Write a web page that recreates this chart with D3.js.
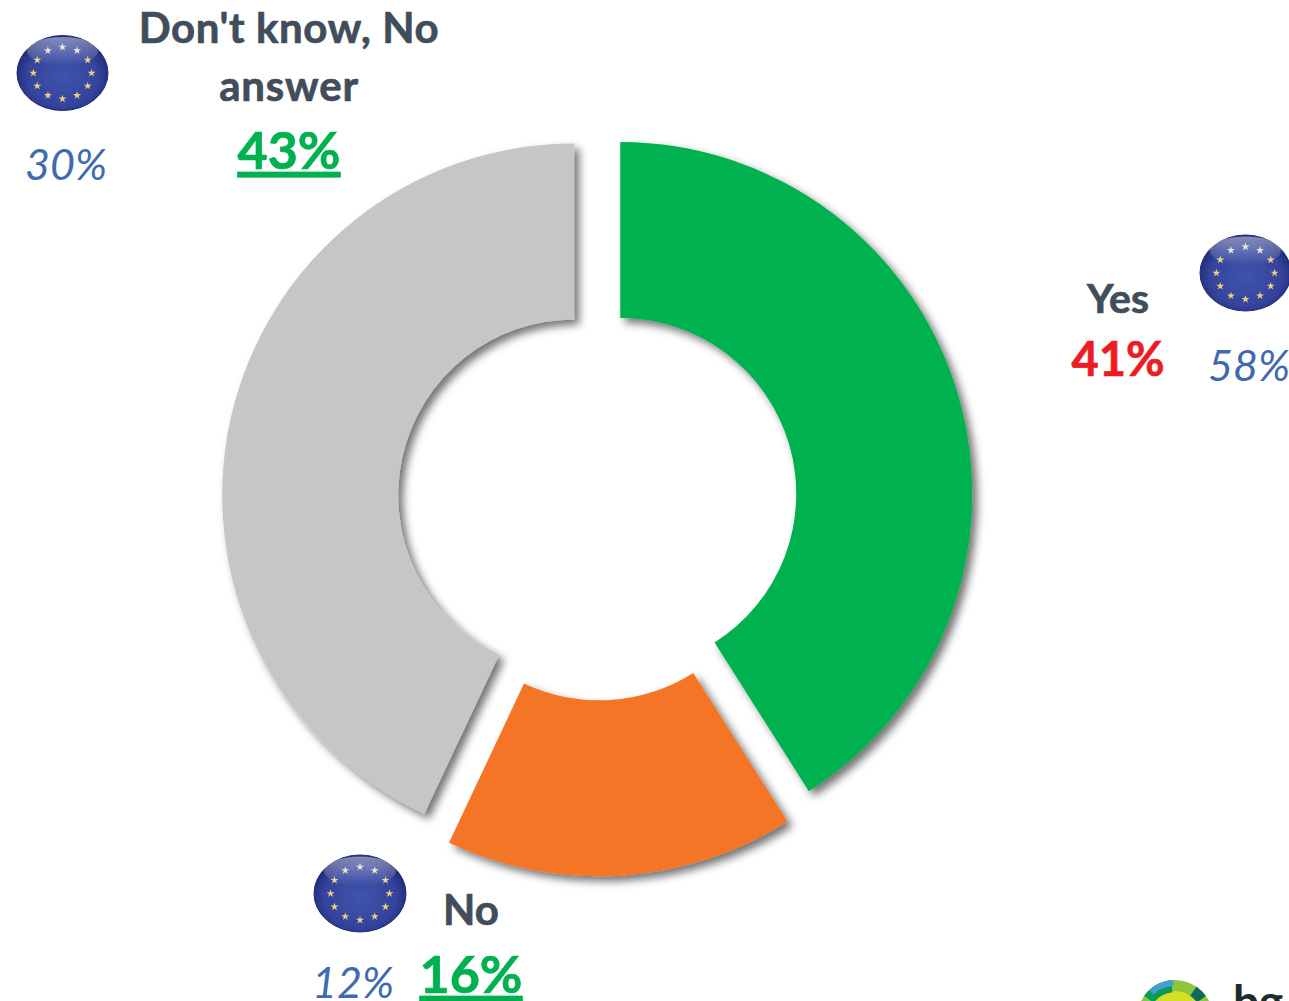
<!DOCTYPE html>
<html><head><meta charset="utf-8">
<script src="https://cdn.jsdelivr.net/npm/d3@7"></script>
<style>html,body{margin:0;background:#fff;overflow:hidden}svg{display:block}text{font-family:Lato,sans-serif}</style>
</head><body><svg id="c" width="1289" height="1001"></svg>
<script>
const categories = ["Yes", "No", "Don't know, No answer"];
const values = [41, 16, 43];
const euValues = [58, 12, 30];
const sliceColors = ["#00b14f", "#f47525", "#c5c6c8"];
const valueColors = ["#ed1c24", "#00b14f", "#00b14f"];
const underlined = [false, true, true];

const svg = d3.select("#c");
const defs = svg.append("defs");
const shadow = defs.append("filter").attr("id","sh").attr("x","-10%").attr("y","-10%").attr("width","120%").attr("height","120%");
shadow.append("feDropShadow").attr("dx",5).attr("dy",5).attr("stdDeviation",4.5).attr("flood-color","#000").attr("flood-opacity",.55);
const fg = defs.append("radialGradient").attr("id","flag").attr("cx",.5).attr("cy",.55).attr("r",.55);
fg.append("stop").attr("offset",0).attr("stop-color","#3f54ad");
fg.append("stop").attr("offset",.72).attr("stop-color","#34439b");
fg.append("stop").attr("offset",1).attr("stop-color","#1d2a78");
const gl = defs.append("linearGradient").attr("id","gloss").attr("x1",0).attr("y1",0).attr("x2",0).attr("y2",1);
gl.append("stop").attr("offset",0).attr("stop-color","#fff").attr("stop-opacity",.45);
gl.append("stop").attr("offset",1).attr("stop-color","#fff").attr("stop-opacity",0);

// Donut
const cx = 597.4, cy = 500.6, explode = 23.8;
const pie = d3.pie().sort(null).value(d => d)(values);
const arc = d3.arc().innerRadius(176).outerRadius(352);
svg.append("g").attr("transform",`translate(${cx},${cy})`)
  .selectAll("path").data(pie).join("path")
  .attr("d", arc)
  .attr("fill",(d,i)=>sliceColors[i])
  .attr("filter","url(#sh)")
  .attr("transform", d => {
    const m = (d.startAngle+d.endAngle)/2;
    return `translate(${explode*Math.sin(m)},${-explode*Math.cos(m)})`;
  });

// EU flag
const star = d3.symbol().type(d3.symbolStar).size(20);
function flag(x,y,rx,ry){
  const g = svg.append("g").attr("transform",`translate(${x},${y})`);
  g.append("ellipse").attr("rx",rx).attr("ry",ry).attr("fill","url(#flag)").attr("stroke","#1d2a78").attr("stroke-width",1);
  d3.range(12).forEach(i=>{
    const a = i/12*2*Math.PI;
    g.append("path").attr("d",star)
      .attr("transform",`translate(${Math.sin(a)*rx*.64},${-Math.cos(a)*ry*.69})`)
      .attr("fill", i<2||i>10 ? "#e8dccb" : "#efcf78");
  });
  g.append("ellipse").attr("cy",-ry*.58).attr("rx",rx*.78).attr("ry",ry*.38).attr("fill","url(#gloss)");
}
flag(62.5,73,45.5,37.5);
flag(1245.5,273,45.5,38);
flag(360,893.5,46,38.5);

// Text
const dark = "#414d5a";
function label(t,x,y,size,fill,opt={}){
  const s = svg.append("text").attr("x",x).attr("y",y).attr("text-anchor","middle")
    .attr("font-size",size).attr("fill",fill)
    .attr("font-weight",opt.italic?400:700).attr("font-style",opt.italic?"italic":"normal")
    .style("letter-spacing",(opt.spacing||0)+"px").text(t);
  if(!opt.italic) s.attr("stroke",fill).attr("stroke-width",.7);
  if(opt.under) s.style("text-decoration","underline").style("text-decoration-thickness","4px").style("text-underline-offset","5px");
  return s;
}
const pct = v => v+"%";
const catWords = categories[2].split(", No ");
label(categories[0],1118,313,41,dark);
label(pct(values[0]),1118,376,47,valueColors[0]);
label(pct(euValues[0]),1249,381,43,"#3f6ab0",{italic:true});
label(categories[1],471,925,42,dark);
label(pct(values[1]),471,993,52,valueColors[1],{under:underlined[1]});
label(pct(euValues[1]),353,998,43,"#3f6ab0",{italic:true});
label(catWords[0]+", No",289,43,42,dark,{spacing:.6});
label(catWords[1],289,101,42,dark,{spacing:.8});
label(pct(values[2]),289,169,52,valueColors[2],{under:underlined[2]});
label(pct(euValues[2]),66,180,43,"#3f6ab0",{italic:true});

// Logo fragment at the page edge
const lg = svg.append("g").attr("transform","translate(1175,1018)");
lg.append("circle").attr("r",38).attr("fill","#8cc63f");
lg.append("circle").attr("r",27).attr("fill","#d7df23");
lg.append("path").attr("d",d3.arc().innerRadius(26).outerRadius(38).startAngle(-.95).endAngle(-.1)()).attr("fill","#0a9a57");
lg.append("path").attr("d",d3.arc().innerRadius(32).outerRadius(38).startAngle(-.75).endAngle(-.05)()).attr("fill","#3f9fd0");
lg.append("path").attr("d",d3.arc().innerRadius(27).outerRadius(38).startAngle(.6).endAngle(.95)()).attr("fill","#0c6b58");
svg.append("text").attr("x",1233).attr("y",1018).attr("font-size",46).attr("font-weight",700).attr("fill","#1e2a2e").text("bg");
</script></body></html>
